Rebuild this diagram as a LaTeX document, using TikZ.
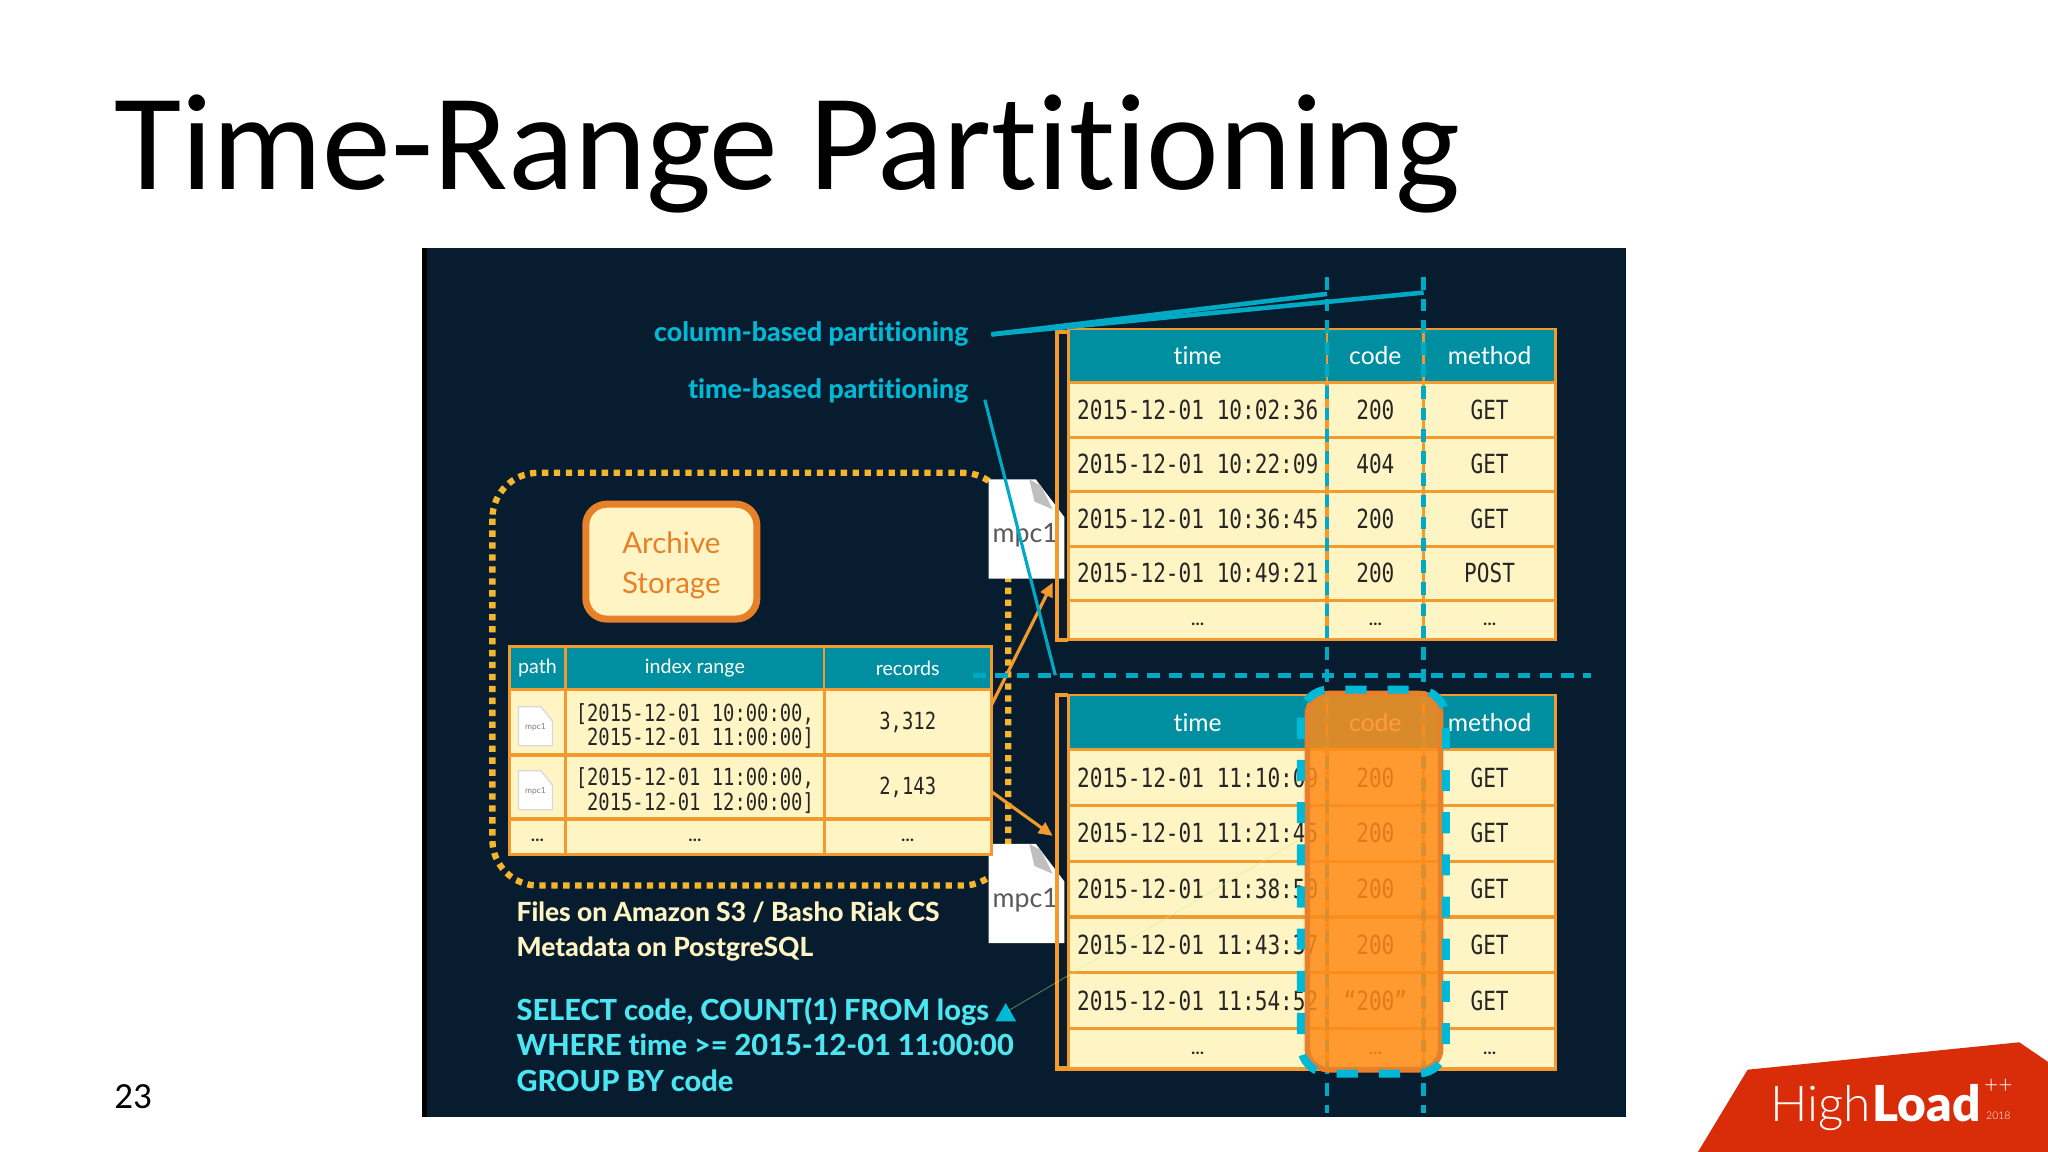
\documentclass[tikz,border=0pt]{standalone}
\usepackage{fontspec}
\setmainfont{Lato}[Ligatures=NoCommon, BoldFont={Lato Heavy}]
\newfontfamily\slidefont{Carlito}[Ligatures=NoCommon]
\newfontfamily\tablemono[FakeStretch=0.8]{DejaVu Sans Mono}
\newfontfamily\logolight{Lato Light}
\newfontfamily\logoblack{Lato Black}
\usetikzlibrary{arrows.meta,positioning,calc}
\definecolor{panel}{HTML}{071C2E}
\definecolor{teal}{HTML}{008FA0}
\definecolor{cream}{HTML}{FFF5C4}
\definecolor{tabline}{HTML}{F39A2E}
\definecolor{boxline}{HTML}{E8802A}
\definecolor{selfill}{HTML}{FF8B18}
\definecolor{dotline}{HTML}{F5B62E}
\definecolor{cyanlabel}{HTML}{00B9D6}
\definecolor{sqlcyan}{HTML}{4CE6F2}
\definecolor{splitline}{HTML}{00A9C4}
\definecolor{logored}{HTML}{D92C08}
\def\u{0.013061cm}
\newcommand\moredots{\raisebox{-1.5pt}[0pt][0pt]{\bfseries\fontsize{4.6}{5}\selectfont\rmfamily…}}
\newcommand\dropline{\rule{0pt}{7.2pt}}
\begin{document}
\begin{tikzpicture}[
    x=\u, y=-\u,
    cell/.style={draw=tabline, line width=.9pt, fill=cream, inner sep=0pt, outer sep=0pt,
      font={\tablemono\fontsize{7.5}{9}\selectfont}, text=black!85},
    head/.style={cell, fill=teal, line width=.7pt, text=white, font={\fontsize{7}{8}\selectfont}},
    idxcell/.style={cell, font={\tablemono\fontsize{6.7}{7}\selectfont}, align=left},
    idxhead/.style={head, font={\fontsize{5.6}{7}\selectfont}},
    colT/.style={minimum width=198*\u}, colC/.style={minimum width=74*\u}, colM/.style={minimum width=101*\u},
    colP/.style={minimum width=43*\u}, colR/.style={minimum width=198*\u}, colN/.style={minimum width=128*\u},
    rowA/.style={minimum height=41.7*\u}, rowB/.style={minimum height=30*\u},
    rowC/.style={minimum height=42.7*\u}, rowD/.style={minimum height=31*\u},
    split/.style={splitline, line width=1.4pt, dash pattern=on 3.6pt off 2.6pt},
    blue/.style={font={\bfseries\fontsize{7.6}{9}\selectfont}, text=cyanlabel, inner sep=0pt},
    sql/.style={font={\bfseries\fontsize{8.25}{10.2}\selectfont}, text=sqlcyan, align=left, inner sep=0pt},
    filename/.style={font={\fontsize{7.6}{9}\selectfont}, text=black!65, inner sep=0pt},
    minifile/.style={font={\fontsize{2.4}{3}\selectfont}, text=black!50, inner sep=0pt},
    arrow/.style={-{Triangle[length=4pt,width=3.6pt]}, tabline, line width=.9pt}
  ]
    \useasboundingbox (0,0) rectangle (1568,882);
    % slide
    \node[font={\slidefont\fontsize{39.15}{46}\selectfont}, anchor=base west, inner sep=0pt] (title) at (87,145) {Time-Range Partitioning};
    \node[font={\slidefont\fontsize{10.5}{12}\selectfont}, anchor=base west, inner sep=0pt] (pagenum) at (87,849) {23};
    \fill[logored] (1338,819) -- (1546,798) -- (1568,813) -- (1568,882) -- (1300,882) -- cycle;
    \node[font={\logolight\fontsize{14.1}{16}\selectfont}, text=white, anchor=base west, inner sep=0pt] (high) at (1355,859) {High};
    \node[font={\logoblack\fontsize{14.1}{16}\selectfont}, text=white, anchor=base west, inner sep=0pt] (load) at (high.base east) {Load};
    \node[font={\logolight\fontsize{7}{8}\selectfont}, text=white, inner sep=0pt] (plus) at (1530,832) {++};
    \node[font={\logolight\fontsize{3}{4}\selectfont}, text=white, inner sep=0pt] (year) at (1530,854) {2018};
    % panel
    \fill[panel] (323,190) rectangle (1245,855);
    \fill[black] (323,190) rectangle (327,855);
    \draw[dotline, line width=1.8pt, dash pattern=on 1.8pt off 1.6pt, rounded corners=13pt] (377,362) rectangle (772,678);
    \node[draw=boxline, line width=2pt, fill=cream, rounded corners=6pt, text=boxline, align=center,
      minimum width=131*\u, minimum height=88*\u, font={\fontsize{8.4}{11.5}\selectfont}] (archive) at (514,430) {\rule{0pt}{8.2pt}Archive\\Storage};
    % files
    \fill[white] (757,367) -- (793,367) -- (815,396) -- (815,443) -- (757,443) -- cycle;
    \fill[black!25] (788,367) -- (797,372) -- (806,390) -- (792,384) -- cycle;
    \node[filename] (fileA) at (785,410) {mpc1};
    \fill[white] (757,646) -- (793,646) -- (815,675) -- (815,722) -- (757,722) -- cycle;
    \fill[black!25] (788,646) -- (797,651) -- (806,669) -- (792,663) -- cycle;
    \node[filename] (fileB) at (785,689) {mpc1};
    % index table
    \node[idxhead, colP, minimum height=33*\u, anchor=north west] (ipath) at (390,495) {path};
    \node[idxhead, colR, minimum height=33*\u, right=0pt of ipath] (irange) {index range};
    \node[idxhead, colN, minimum height=33*\u, right=0pt of irange] (irec) {records};
    \node[idxcell, colP, minimum height=50*\u, below=0pt of ipath] (pathA) {};
    \node[idxcell, colR, minimum height=50*\u, right=0pt of pathA] (rangeA) {\dropline[2015-12-01 10:00:00,\\\ 2015-12-01 11:00:00]};
    \node[idxcell, colN, minimum height=50*\u, right=0pt of rangeA] (recA) {3,312};
    \node[idxcell, colP, minimum height=49*\u, below=0pt of pathA] (pathB) {};
    \node[idxcell, colR, minimum height=49*\u, right=0pt of pathB] (rangeB) {\dropline[2015-12-01 11:00:00,\\\ 2015-12-01 12:00:00]};
    \node[idxcell, colN, minimum height=49*\u, right=0pt of rangeB] (recB) {2,143};
    \node[idxcell, colP, minimum height=27*\u, below=0pt of pathB] (pathC) {\moredots};
    \node[idxcell, colR, minimum height=27*\u, right=0pt of pathC] (rangeC) {\moredots};
    \node[idxcell, colN, minimum height=27*\u, right=0pt of rangeC] (recC) {\moredots};
    \fill[white, draw=black!15] (397,541) -- (414,541) -- (423,552) -- (423,571) -- (397,571) -- cycle;
    \node[minifile] (miniA) at (410,557) {mpc1};
    \fill[white, draw=black!15] (397,590) -- (414,590) -- (423,601) -- (423,620) -- (397,620) -- cycle;
    \node[minifile] (miniB) at (410,606) {mpc1};
    % arrows to the tables
    \coordinate (arrAs) at (759,540);
    \coordinate (arrAe) at (806,446);
    \coordinate (arrBs) at (759,606);
    \coordinate (arrBe) at (806,640);
    \draw[arrow] (arrAs) -- (arrAe);
    \draw[arrow] (arrBs) -- (arrBe);
    % upper table
    \draw[tabline, line width=1.2pt] (818,254) -- (809,254) -- (809,490) -- (818,490);
    \node[head, colT, minimum height=41*\u, anchor=north west] (timeA) at (818,252) {time};
    \node[head, colC, minimum height=41*\u, right=0pt of timeA] (codeA) {code};
    \node[head, colM, minimum height=41*\u, right=0pt of codeA] (methA) {method};
    \node[cell, colT, rowA, below=0pt of timeA] (a1t) {2015-12-01 10:02:36};
    \node[cell, colC, rowA, right=0pt of a1t] (a1c) {200};
    \node[cell, colM, rowA, right=0pt of a1c] (a1m) {GET};
    \node[cell, colT, rowA, below=0pt of a1t] (a2t) {2015-12-01 10:22:09};
    \node[cell, colC, rowA, right=0pt of a2t] (a2c) {404};
    \node[cell, colM, rowA, right=0pt of a2c] (a2m) {GET};
    \node[cell, colT, rowA, below=0pt of a2t] (a3t) {2015-12-01 10:36:45};
    \node[cell, colC, rowA, right=0pt of a3t] (a3c) {200};
    \node[cell, colM, rowA, right=0pt of a3c] (a3m) {GET};
    \node[cell, colT, rowA, below=0pt of a3t] (a4t) {2015-12-01 10:49:21};
    \node[cell, colC, rowA, right=0pt of a4t] (a4c) {200};
    \node[cell, colM, rowA, right=0pt of a4c] (a4m) {POST};
    \node[cell, colT, rowB, below=0pt of a4t] (a5t) {\moredots};
    \node[cell, colC, rowB, right=0pt of a5t] (a5c) {\moredots};
    \node[cell, colM, rowB, right=0pt of a5c] (a5m) {\moredots};
    % lower table
    \draw[tabline, line width=1.2pt] (818,532) -- (809,532) -- (809,818) -- (818,818);
    \node[head, colT, minimum height=42*\u, anchor=north west] (timeB) at (818,532) {time};
    \node[head, colC, minimum height=42*\u, right=0pt of timeB] (codeB) {code};
    \node[head, colM, minimum height=42*\u, right=0pt of codeB] (methB) {method};
    \node[cell, colT, rowC, below=0pt of timeB] (b1t) {2015-12-01 11:10:09};
    \node[cell, colC, rowC, right=0pt of b1t] (b1c) {200};
    \node[cell, colM, rowC, right=0pt of b1c] (b1m) {GET};
    \node[cell, colT, rowC, below=0pt of b1t] (b2t) {2015-12-01 11:21:45};
    \node[cell, colC, rowC, right=0pt of b2t] (b2c) {200};
    \node[cell, colM, rowC, right=0pt of b2c] (b2m) {GET};
    \node[cell, colT, rowC, below=0pt of b2t] (b3t) {2015-12-01 11:38:50};
    \node[cell, colC, rowC, right=0pt of b3t] (b3c) {200};
    \node[cell, colM, rowC, right=0pt of b3c] (b3m) {GET};
    \node[cell, colT, rowC, below=0pt of b3t] (b4t) {2015-12-01 11:43:37};
    \node[cell, colC, rowC, right=0pt of b4t] (b4c) {200};
    \node[cell, colM, rowC, right=0pt of b4c] (b4m) {GET};
    \node[cell, colT, rowC, below=0pt of b4t] (b5t) {2015-12-01 11:54:52};
    \node[cell, colC, rowC, right=0pt of b5t] (b5c) {“200”};
    \node[cell, colM, rowC, right=0pt of b5c] (b5m) {GET};
    \node[cell, colT, rowD, below=0pt of b5t] (b6t) {\moredots};
    \node[cell, colC, rowD, right=0pt of b6t] (b6c) {\moredots};
    \node[cell, colM, rowD, right=0pt of b6c] (b6m) {\moredots};
    % partition lines
    \coordinate (colTopA) at (1016,212);
    \coordinate (colBotA) at (1016,852);
    \coordinate (colTopB) at (1090,212);
    \coordinate (colBotB) at (1090,852);
    \coordinate (rowL) at (745,517);
    \coordinate (rowR) at (1218,517);
    \draw[split] (colTopA) -- (colBotA);
    \draw[split] (colTopB) -- (colBotB);
    \draw[split] (rowL) -- (rowR);
    % labels
    \node[blue, anchor=east] (colLabel) at (742,256) {column-based partitioning};
    \node[blue, anchor=east] (timeLabel) at (742,299) {time-based partitioning};
    \coordinate (colHitA) at (1016,225);
    \coordinate (colHitB) at (1090,224);
    \coordinate (timeHit) at (808,517);
    \coordinate (colFrom) at (759,256);
    \coordinate (timeFrom) at (754,306);
    \draw[splitline, line width=1.3pt] (colFrom) -- (colHitA);
    \draw[splitline, line width=1.3pt] (colFrom) -- (colHitB);
    \draw[splitline, line width=.9pt] (timeFrom) -- (timeHit);
    % selected column
    \node[draw=boxline, line width=1.6pt, fill=selfill, fill opacity=.85, rounded corners=6pt,
      minimum width=102*\u, minimum height=288*\u] (select) at (1052,675) {};
    \draw[cyanlabel, line width=2.3pt, dash pattern=on 6pt off 6pt, rounded corners=8pt] (996,528) rectangle (1107,822);
    % notes
    \node[font={\bfseries\fontsize{7.5}{10}\selectfont}, text=cream, align=left, inner sep=0pt, anchor=north west] (notes) at (395,690) {Files on Amazon S3 / Basho Riak CS\\Metadata on PostgreSQL};
    \node[sql, anchor=north west] (query) at (395,763) {SELECT code, COUNT(1) FROM logs\\WHERE time >= 2015-12-01 11:00:00\\GROUP BY code};
    \node[inner sep=0pt] (scanmark) at (770,775) {};
    \fill[cyanlabel] (770,768) -- (778,782) -- (762,782) -- cycle;
    \coordinate (scanEnd) at (1000,640);
    \draw[green!30!cream, line width=.25pt, opacity=.45] (scanmark) -- (scanEnd);
  \end{tikzpicture}
\end{document}
